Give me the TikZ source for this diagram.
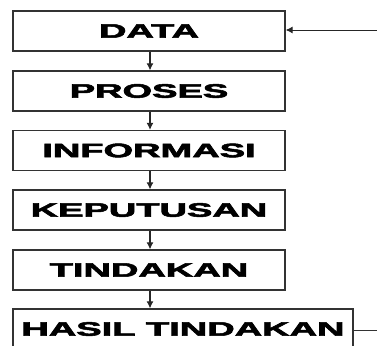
\documentclass[tikz,border=0pt]{standalone}
\usepackage{fontspec}
\setmainfont{Liberation Sans}
\newfontfamily\heavy{Liberation Sans}[BoldFeatures={FakeBold=2.5}]
\usetikzlibrary{arrows.meta}
\newcommand{\lbl}[1]{\scalebox{1.95}[1]{\heavy\bfseries\fontsize{19.5}{19.5}\selectfont #1}}
\tikzset{
  stepbox/.style={draw=black!80, line width=1.3pt, minimum height=40pt, inner sep=0pt, anchor=center},
  flow/.style={draw=black!85, line width=1.1pt, -{Latex[length=7pt,width=7pt]}},
  plain/.style={draw=black!80, line width=0.8pt}
}
\begin{document}
\begin{tikzpicture}[x=1pt,y=-1pt]
\useasboundingbox (0,0) rectangle (377,345);
\node[stepbox, minimum width=272pt] (data) at (149,31) {\lbl{DATA}};
\node[stepbox, minimum width=272pt] (proses) at (149,91) {\lbl{PROSES}};
\node[stepbox, minimum width=272pt] (info) at (149,150.5) {\lbl{INFORMASI}};
\node[stepbox, minimum width=272pt] (kep) at (149,210) {\lbl{KEPUTUSAN}};
\node[stepbox, minimum width=272pt] (tind) at (149,270) {\lbl{TINDAKAN}};
\node[stepbox, minimum width=340pt] (hasil) at (183,329) {\lbl{HASIL TINDAKAN}};
\coordinate (inR) at (377,30);
\coordinate (outR) at (377,330);
\draw[flow] (data.south -| 150,0) -- (proses.north -| 150,0);
\draw[flow] (proses.south -| 150,0) -- (info.north -| 150,0);
\draw[flow] (info.south -| 150,0) -- (kep.north -| 150,0);
\draw[flow] (kep.south -| 150,0) -- (tind.north -| 150,0);
\draw[flow] (tind.south -| 150,0) -- (hasil.north -| 150,0);
\draw[flow, line width=0.9pt] (inR) -- (data.east |- inR);
\draw[plain] (hasil.east |- outR) -- (outR);
\end{tikzpicture}
\end{document}
